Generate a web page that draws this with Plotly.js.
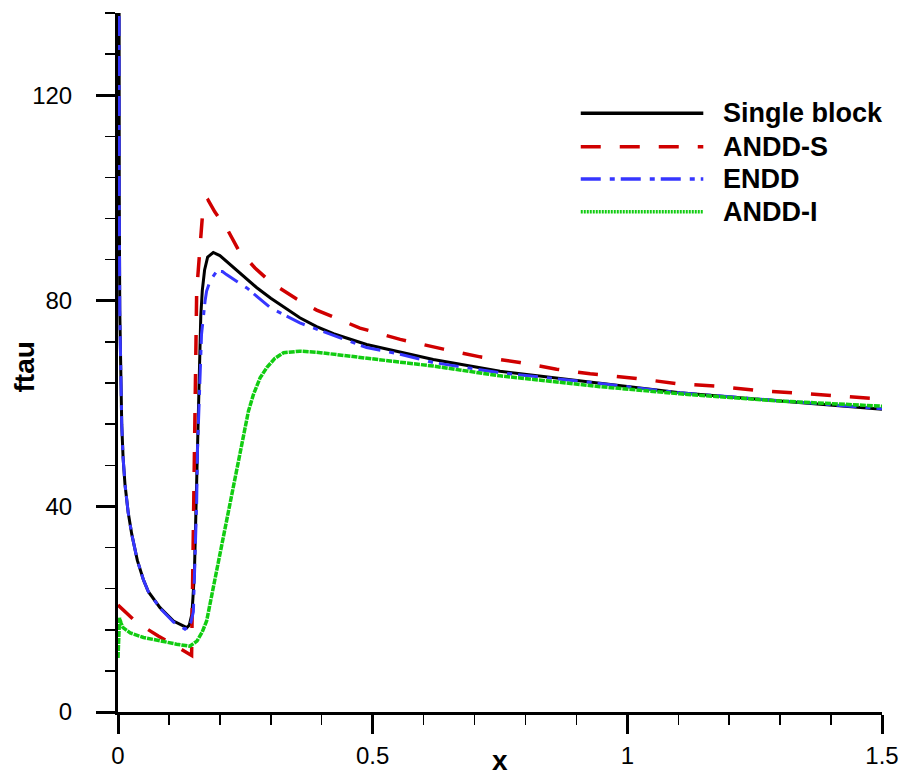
<!DOCTYPE html>
<html>
<head>
<meta charset="utf-8">
<script src="https://cdn.plot.ly/plotly-3.0.1.min.js"></script>
<style>html,body{margin:0;padding:0;background:#fff;}#chart{width:905px;height:776px;}</style>
</head>
<body>
<div id="chart"></div>
<script>
// ---------- data ----------
const seriesNames = ["Single block", "ANDD-S", "ENDD", "ANDD-I"];

const singleX = [0, 0.0008, 0.0015, 0.0025, 0.0035, 0.005, 0.0073, 0.01, 0.0137, 0.02, 0.027, 0.038, 0.05, 0.0596, 0.0825, 0.109, 0.125, 0.135, 0.14, 0.145, 0.147, 0.150, 0.152, 0.154, 0.156, 0.158, 0.160, 0.1625, 0.1655, 0.170, 0.176, 0.187, 0.200, 0.220, 0.245, 0.272, 0.300, 0.325, 0.357, 0.390, 0.423, 0.488, 0.554, 0.619, 0.750, 0.914, 1.103, 1.300, 1.500];
const singleY = [400, 200, 140, 100, 78, 66, 56, 49.5, 44.3, 38.8, 34.6, 29.5, 25.7, 23.4, 20.3, 17.7, 16.8, 16.4, 16.9, 19, 22, 27, 35, 43, 50, 60, 70, 77, 82, 86, 88.5, 89.4, 88.8, 87.1, 84.8, 82.6, 80.5, 78.9, 76.7, 75.0, 73.6, 71.5, 70.0, 68.6, 66.3, 64.3, 62.1, 60.5, 58.9];

const anddSX = [0, 0.037, 0.079, 0.112, 0.1445, 0.1545, 0.1675, 0.177, 0.190, 0.213, 0.236, 0.269, 0.300, 0.350, 0.390, 0.475, 0.554, 0.639, 0.711, 0.789, 0.861, 0.927, 1.018, 1.097, 1.175, 1.251, 1.326, 1.404, 1.500];
const anddSY = [20.8, 17.4, 14.8, 12.8, 11.0, 81.9, 98.8, 99.6, 97.3, 94.2, 90.0, 86.4, 83.6, 80.4, 78.2, 74.7, 72.5, 70.6, 69.1, 68.0, 66.7, 65.8, 64.9, 63.9, 63.4, 62.6, 62.1, 61.5, 60.9];

const enddX = [0, 0.0008, 0.0015, 0.0025, 0.0035, 0.005, 0.0073, 0.01, 0.0137, 0.02, 0.027, 0.038, 0.05, 0.0596, 0.0825, 0.109, 0.125, 0.1316, 0.138, 0.143, 0.148, 0.151, 0.1545, 0.156, 0.160, 0.164, 0.171, 0.174, 0.181, 0.194, 0.205, 0.213, 0.253, 0.300, 0.357, 0.4555, 0.488, 0.554, 0.619, 0.750, 0.930, 1.103, 1.300, 1.500];
const enddY = [400, 200, 140, 100, 78, 66, 56, 49.5, 44.3, 38.8, 34.6, 29.5, 25.7, 23.4, 20.2, 17.5, 16.5, 16.1, 16.5, 17.4, 19.5, 28, 41, 50.8, 60.5, 73.5, 80, 81.9, 83.9, 85.8, 85.7, 85.1, 82.5, 78.6, 75.7, 72.2, 70.9, 69.6, 68.0, 66.0, 64.1, 62.1, 60.5, 59.0];

const anddIX = [0, 0.001, 0.003, 0.006, 0.010, 0.024, 0.050, 0.115, 0.141, 0.155, 0.165, 0.174, 0.181, 0.194, 0.207, 0.220, 0.233, 0.246, 0.256, 0.266, 0.279, 0.292, 0.308, 0.325, 0.357, 0.390, 0.423, 0.488, 0.550, 0.619, 0.750, 0.850, 0.946, 1.103, 1.300, 1.500];
const anddIY = [10.5, 15, 18.3, 17.3, 16.4, 15.4, 14.5, 13.2, 12.8, 13.8, 15.5, 17.7, 21.2, 28.1, 34.6, 41, 47.5, 54, 58.5, 61.8, 65, 67, 68.8, 69.9, 70.2, 70.0, 69.6, 68.9, 68.1, 67.3, 65.4, 64.3, 63.3, 61.9, 60.5, 59.5];

const xTickVals = [0, 0.5, 1, 1.5];
const xTickText = ["0", "0.5", "1", "1.5"];
const yTickVals = [0, 40, 80, 120];
const yTickText = ["0", "40", "80", "120"];

// ---------- styles ----------
const colors = ["#000000", "#d00000", "#3636ff", "#11cc11"];
const widths = [3, 3.5, 3, 3.5];
const dashes = ["solid", "20px,19px", "20px,9px,5px,6px", "6px,1px"];
const xs = [singleX, anddSX, enddX, anddIX];
const ys = [singleY, anddSY, enddY, anddIY];

const traces = seriesNames.map((n, i) => ({
  type: "scatter", mode: "lines", name: n,
  x: xs[i], y: ys[i],
  line: {color: colors[i], width: widths[i], dash: dashes[i]},
  showlegend: false, hoverinfo: "skip"
}));

const FONT = "Liberation Sans, Arial, Helvetica, sans-serif";

// legend drawn as shapes + text (long sample lines like the reference)
const legRowY = [0.8565, 0.8087, 0.7625, 0.7157];
const legDash = ["solid", "20px,19px", "20px,9px,5px,6px", "2px,1px"];
const shapes = seriesNames.map((n, i) => ({
  type: "line", xref: "paper", yref: "paper",
  x0: 0.6057, x1: 0.7661, y0: legRowY[i], y1: legRowY[i],
  line: {color: colors[i], width: 3.5, dash: legDash[i]}
}));
const annotations = seriesNames.map((n, i) => ({
  xref: "paper", yref: "paper", x: 0.7893, y: legRowY[i],
  xanchor: "left", yanchor: "middle", showarrow: false, text: n,
  font: {family: FONT, size: 27, color: "#000", weight: "bold"}
}));
annotations.push({
  xref: "paper", yref: "paper", x: 0.5, y: -0.069, xanchor: "center", yanchor: "middle",
  showarrow: false, text: "x", font: {family: FONT, size: 28, color: "#000", weight: "bold"}
});
annotations.push({
  xref: "paper", yref: "paper", x: -0.1224, y: 0.4936, xanchor: "center", yanchor: "middle",
  showarrow: false, text: "ftau", textangle: -90,
  font: {family: FONT, size: 28, color: "#000", weight: "bold"}
});

const layout = {
  width: 905, height: 776,
  margin: {l: 118, r: 23, t: 13, b: 64, pad: 0},
  paper_bgcolor: "#ffffff", plot_bgcolor: "#ffffff",
  showlegend: false,
  xaxis: {
    range: [0, 1.5], tickmode: "array", tickvals: xTickVals, ticktext: xTickText,
    ticks: "outside", ticklen: 19, tickwidth: 3, tickcolor: "#000",
    showline: true, linewidth: 3, linecolor: "#000",
    showgrid: false, zeroline: false,
    tickfont: {family: FONT, size: 24, color: "#000"},
    ticklabelstandoff: 1,
    minor: {dtick: 0.1, tick0: 0, ticks: "outside", ticklen: 10, tickwidth: 1.5, tickcolor: "#000", showgrid: false}
  },
  yaxis: {
    range: [0, 136], tickmode: "array", tickvals: yTickVals, ticktext: yTickText,
    ticks: "outside", ticklen: 19, tickwidth: 3, tickcolor: "#000",
    showline: true, linewidth: 3, linecolor: "#000",
    showgrid: false, zeroline: false,
    tickfont: {family: FONT, size: 24, color: "#000"},
    ticklabelstandoff: 19,
    minor: {dtick: 8, tick0: 0, ticks: "outside", ticklen: 10, tickwidth: 1.5, tickcolor: "#000", showgrid: false}
  },
  shapes: shapes,
  annotations: annotations
};

Plotly.newPlot("chart", traces, layout, {staticPlot: true, displayModeBar: false});
</script>
</body>
</html>
